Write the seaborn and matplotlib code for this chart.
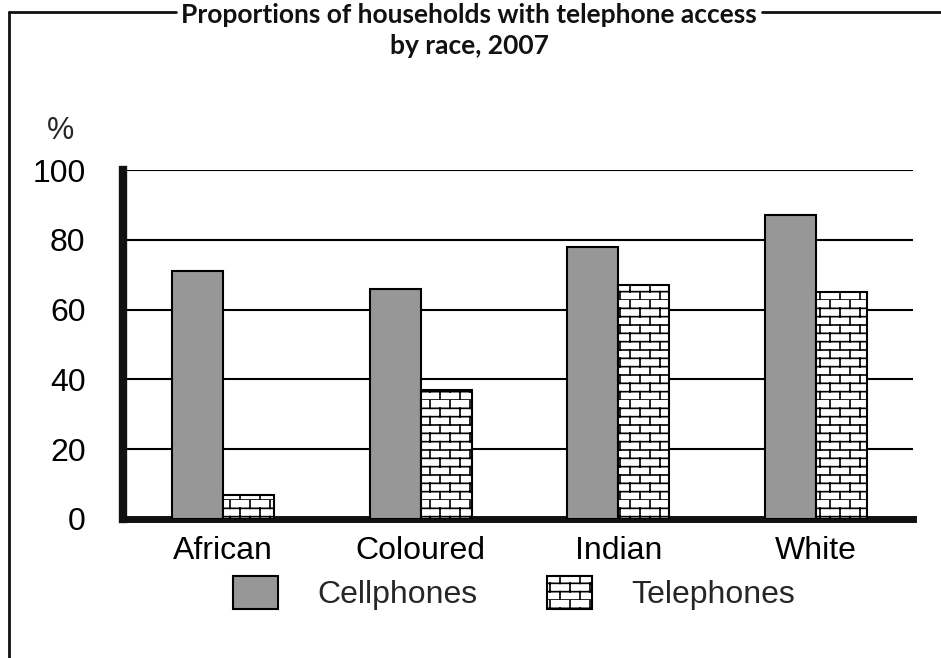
import warnings
import pandas as pd
import matplotlib
matplotlib.use("Agg")
import matplotlib.pyplot as plt
import matplotlib.hatch as mhatch
from matplotlib.path import Path
from matplotlib.patches import Patch
from matplotlib.lines import Line2D
import seaborn as sns

# ---- data -------------------------------------------------------------
races = ["African", "Coloured", "Indian", "White"]
cellphones = [71, 66, 78, 87]
telephones = [7, 37, 67, 65]
series = ["Cellphones", "Telephones"]
y_ticks = [0, 20, 40, 60, 80, 100]
title_lines = ["Proportions of households with telephone access", "by race, 2007"]


# ---- running-bond brick hatch, selected with the 'b' hatch character ---
class BrickHatch(mhatch.HatchPatternBase):
    rows = 12
    bricks = 5

    def __init__(self, hatch, density):
        on = "b" in hatch
        self.num_vertices = (self.rows * 2 + self.rows * self.bricks * 2) if on else 0

    def set_vertices_and_codes(self, vertices, codes):
        pts = []
        h = 1.0 / self.rows
        w = 1.0 / self.bricks
        for r in range(self.rows):
            pts += [(0.0, r * h), (1.0, r * h)]
        for r in range(self.rows):
            y0, y1 = r * h, (r + 1) * h
            off = w / 2 if r % 2 else 0.0
            for b in range(self.bricks):
                x = off + b * w
                pts += [(x, y0), (x, y1)]
        vertices[:] = pts
        codes[0::2] = Path.MOVETO
        codes[1::2] = Path.LINETO


mhatch._hatch_types.append(BrickHatch)
warnings.filterwarnings("ignore", message="hatch must consist")

# ---- style ------------------------------------------------------------
sns.set_style("white")
plt.rcParams["font.family"] = ["Liberation Sans", "DejaVu Sans"]
plt.rcParams["hatch.linewidth"] = 1.2

W, H = 941, 658
FS = 23
fig = plt.figure(figsize=(W / 100, H / 100), dpi=100)
ax = fig.add_axes([123 / W, (H - 519) / H, (913 - 123) / W, (519 - 170) / H])

df = pd.DataFrame({
    "Race": races * 2,
    "Access": [series[0]] * len(races) + [series[1]] * len(races),
    "Percent": cellphones + telephones,
})

cell_grey = "#979797"
sns.barplot(data=df, x="Race", y="Percent", hue="Access", hue_order=series,
            palette={series[0]: cell_grey, series[1]: "white"},
            width=0.516, edgecolor="black", linewidth=1.5, saturation=1,
            errorbar=None, legend=False, zorder=3, ax=ax)

for bar in ax.containers[1]:
    bar.set_hatch("b")

ax.set_ylim(0, 100)
ax.set_xlim(-0.506, 3.49)
ax.set_yticks(y_ticks)
ax.set_xlabel("")
ax.set_ylabel("")
ax.yaxis.grid(True, color="black", lw=1.5)
ax.xaxis.grid(False)
ax.set_axisbelow(True)

for side in ("top", "right"):
    ax.spines[side].set_visible(False)
ax.spines["left"].set_linewidth(6)
ax.spines["bottom"].set_linewidth(5)
ax.spines["left"].set_color("#111111")
ax.spines["bottom"].set_color("#111111")

ax.tick_params(axis="both", length=0, labelsize=FS, colors="black")
ax.tick_params(axis="y", pad=27)
ax.tick_params(axis="x", pad=12)

fig.text(60 / W, 1 - 131 / H, "%", ha="center", va="center", fontsize=FS - 1)

# ---- legend -----------------------------------------------------------
handles = [Patch(facecolor=cell_grey, edgecolor="black", lw=1.5),
           Patch(facecolor="white", edgecolor="black", lw=1.5, hatch="b")]
fig.legend(handles, series, loc="center", bbox_to_anchor=(514 / W, 1 - 593 / H),
           ncol=2, frameon=False, fontsize=FS, handlelength=1.41,
           handleheight=1.19, handletextpad=1.25, columnspacing=2.16)

# ---- title and frame --------------------------------------------------
t1 = fig.text(469 / W, 1 - 15 / H, title_lines[0], ha="center", va="center",
              fontfamily="Lato", fontweight="bold", fontsize=19, color="#111111")
fig.text(469 / W, 1 - 46 / H, title_lines[1], ha="center", va="center",
         fontfamily="Lato", fontweight="bold", fontsize=19, color="#111111")

fig.canvas.draw()
bb = t1.get_window_extent()
ytop = 1 - 12 / H
frame_kw = dict(transform=fig.transFigure, color="#111111", lw=2)
fig.add_artist(Line2D([9 / W, 9 / W], [0, ytop], **frame_kw))
fig.add_artist(Line2D([9 / W, (bb.x0 - 5) / W], [ytop, ytop], **frame_kw))
fig.add_artist(Line2D([(bb.x1 + 5) / W, 1.0], [ytop, ytop], **frame_kw))

fig.savefig("out.png", dpi=100)
